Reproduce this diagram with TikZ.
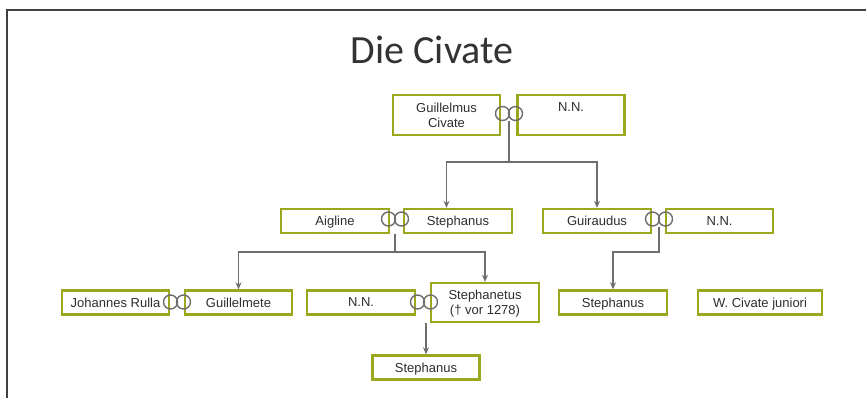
\documentclass[tikz,border=0pt]{standalone}
\usepackage{fontspec}
\setmainfont{Liberation Sans}
\newfontfamily\titlefont{Carlito}
\usepackage{tikz}
\usetikzlibrary{arrows.meta, positioning}
\definecolor{boxolive}{RGB}{155,168,30}
\definecolor{linegray}{RGB}{110,110,110}
\definecolor{textgray}{RGB}{45,45,45}
\definecolor{framegray}{RGB}{64,64,64}

\begin{document}
\begin{tikzpicture}[x=1pt, y=-1pt,
  person/.style={draw=boxolive, line width=2.4pt, minimum width=107pt, minimum height=24pt,
    inner sep=0pt, align=center, text depth=0pt, text=textgray, font=\fontsize{13}{15}\selectfont},
  ring/.style={circle, draw=linegray, line width=1.4pt, minimum size=14pt, inner sep=0pt},
  link/.style={draw=linegray, line width=1.4pt},
  arr/.style={link, -{Stealth[length=7pt, width=6pt]}}]
  \useasboundingbox (0,0) rectangle (866,398);
  % slide frame and title
  \draw[framegray, line width=1.5pt] (7,398) -- (7,10) -- (866,10);
  \node[font=\titlefont\fontsize{40}{48}\selectfont, text=black!80] (title) at (432,50) {Die Civate};
  % first generation
  \node[person, minimum height=40pt] (gc) at (446.5,115) {Guillelmus\\Civate};
  \node[person, minimum height=40pt] (nn0) at (571,115) {N.N.\\\strut};
  % second generation
  \node[person, minimum width=108pt] (aigline) at (335,221) {Aigline};
  \node[person, minimum width=108pt] (steph1) at (458,221) {Stephanus};
  \node[person, minimum width=108pt] (guiraudus) at (597,221) {Guiraudus};
  \node[person] (nn1) at (719.5,221) {N.N.};
  % third generation
  \node[person] (johannes) at (115.5,302.5) {Johannes Rulla};
  \node[person] (guillelmete) at (238.5,302.5) {Guillelmete};
  \node[person, minimum width=108pt] (nn2) at (361,302.5) {N.N.};
  \node[person, minimum width=108pt, minimum height=39pt] (stephanetus) at (485,302.5) {Stephanetus\\(† vor 1278)};
  \node[person, minimum width=108pt] (steph2) at (613,302.5) {Stephanus};
  \node[person, minimum width=124pt] (wcivate) at (760,302.5) {W. Civate juniori};
  % fourth generation
  \node[person] (steph3) at (426,367.5) {Stephanus};
  % marriage rings
  \foreach \name/\x/\y in {r0/509/113.5, r1/395/219, r2/659/219, r3/177/302, r4/424/302} {
    \coordinate (\name) at (\x,\y);
    \node[ring] (\name-l) at (\x-6.5,\y) {};
    \node[ring] (\name-r) at (\x+6.5,\y) {};
  }
  % descent lines
  \coordinate (fork0) at (509,162);
  \draw[link] (r0-l.south -| r0) -- (fork0);
  \draw[arr] (fork0) -| (gc.south |- steph1.north);
  \draw[arr] (fork0) -| (guiraudus.north);
  \coordinate (fork1) at (395,252);
  \draw[link] (aigline.south -| fork1) -- (fork1);
  \draw[arr] (fork1) -| (guillelmete.north);
  \draw[arr] (fork1) -| (stephanetus.north);
  \coordinate (fork2) at (659,252);
  \draw[arr] (r2-l.south -| r2) -- (fork2) -| (steph2.north);
  \draw[arr] (stephanetus.south -| steph3) -- (steph3.north);
\end{tikzpicture}
\end{document}
